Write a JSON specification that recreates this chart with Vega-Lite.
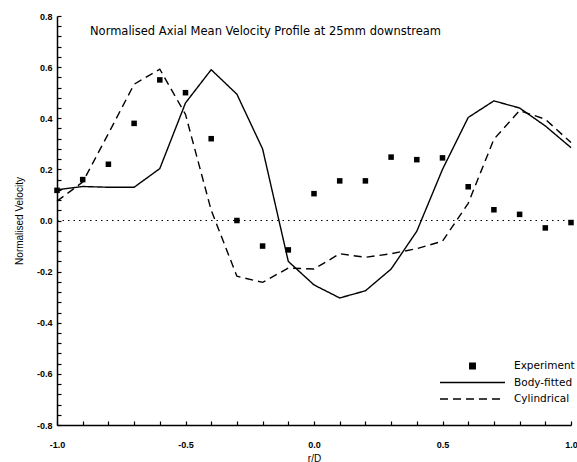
{
  "$schema": "https://vega.github.io/schema/vega-lite/v6.json",
  "width": 514,
  "height": 409,
  "autosize": {"type": "none"},
  "padding": {"left": 57, "top": 16, "right": 6, "bottom": 37},
  "background": "white",
  "title": {
    "text": "Normalised Axial Mean Velocity Profile at 25mm downstream",
    "anchor": "start",
    "frame": "group",
    "orient": "top",
    "offset": -25,
    "dx": 33,
    "font": "DejaVu Sans",
    "fontSize": 11.5,
    "fontWeight": "normal",
    "color": "black"
  },
  "config": {
    "view": {"stroke": null},
    "font": "Liberation Sans",
    "axis": {
      "grid": false,
      "ticks": true,
      "domainColor": "black",
      "domainWidth": 1.5,
      "tickColor": "black",
      "tickWidth": 1.2,
      "labelFont": "Liberation Sans",
      "labelFontWeight": "bold",
      "labelFontSize": 9,
      "labelColor": "black",
      "labelOverlap": false,
      "labelFlush": false,
      "titleFont": "Liberation Sans",
      "titleFontWeight": "normal",
      "titleFontSize": 10,
      "titleColor": "black"
    },
    "legend": {
      "symbolSize": 4225,
      "symbolFillColor": "black",
      "symbolStrokeColor": "black",
      "symbolStrokeWidth": 1.4,
      "symbolOpacity": 1,
      "clipHeight": 16,
      "rowPadding": 0.5,
      "labelFont": "DejaVu Sans",
      "labelFontSize": 10.5,
      "labelColor": "black",
      "labelOffset": 8,
      "padding": 0
    }
  },
  "datasets": {
    "experiment": [
      {"r": -1.0, "v": 0.118, "series": "Experiment"},
      {"r": -0.9, "v": 0.16, "series": "Experiment"},
      {"r": -0.8, "v": 0.22, "series": "Experiment"},
      {"r": -0.7, "v": 0.38, "series": "Experiment"},
      {"r": -0.6, "v": 0.55, "series": "Experiment"},
      {"r": -0.5, "v": 0.5, "series": "Experiment"},
      {"r": -0.4, "v": 0.32, "series": "Experiment"},
      {"r": -0.3, "v": 0.0, "series": "Experiment"},
      {"r": -0.2, "v": -0.1, "series": "Experiment"},
      {"r": -0.1, "v": -0.115, "series": "Experiment"},
      {"r": 0.0, "v": 0.105, "series": "Experiment"},
      {"r": 0.1, "v": 0.155, "series": "Experiment"},
      {"r": 0.2, "v": 0.155, "series": "Experiment"},
      {"r": 0.3, "v": 0.248, "series": "Experiment"},
      {"r": 0.4, "v": 0.238, "series": "Experiment"},
      {"r": 0.5, "v": 0.245, "series": "Experiment"},
      {"r": 0.6, "v": 0.132, "series": "Experiment"},
      {"r": 0.7, "v": 0.042, "series": "Experiment"},
      {"r": 0.8, "v": 0.024, "series": "Experiment"},
      {"r": 0.9, "v": -0.029, "series": "Experiment"},
      {"r": 1.0, "v": -0.008, "series": "Experiment"}
    ],
    "models": [
      {"r": -1.0, "v": 0.12, "series": "Body-fitted"},
      {"r": -0.9, "v": 0.133, "series": "Body-fitted"},
      {"r": -0.8, "v": 0.13, "series": "Body-fitted"},
      {"r": -0.7, "v": 0.13, "series": "Body-fitted"},
      {"r": -0.6, "v": 0.203, "series": "Body-fitted"},
      {"r": -0.5, "v": 0.46, "series": "Body-fitted"},
      {"r": -0.4, "v": 0.59, "series": "Body-fitted"},
      {"r": -0.3, "v": 0.494, "series": "Body-fitted"},
      {"r": -0.2, "v": 0.28, "series": "Body-fitted"},
      {"r": -0.1, "v": -0.16, "series": "Body-fitted"},
      {"r": 0.0, "v": -0.252, "series": "Body-fitted"},
      {"r": 0.1, "v": -0.303, "series": "Body-fitted"},
      {"r": 0.2, "v": -0.275, "series": "Body-fitted"},
      {"r": 0.3, "v": -0.19, "series": "Body-fitted"},
      {"r": 0.4, "v": -0.042, "series": "Body-fitted"},
      {"r": 0.5, "v": 0.2, "series": "Body-fitted"},
      {"r": 0.6, "v": 0.403, "series": "Body-fitted"},
      {"r": 0.7, "v": 0.468, "series": "Body-fitted"},
      {"r": 0.8, "v": 0.44, "series": "Body-fitted"},
      {"r": 0.9, "v": 0.37, "series": "Body-fitted"},
      {"r": 1.0, "v": 0.285, "series": "Body-fitted"},
      {"r": -1.0, "v": 0.076, "series": "Cylindrical"},
      {"r": -0.9, "v": 0.15, "series": "Cylindrical"},
      {"r": -0.8, "v": 0.34, "series": "Cylindrical"},
      {"r": -0.7, "v": 0.533, "series": "Cylindrical"},
      {"r": -0.6, "v": 0.592, "series": "Cylindrical"},
      {"r": -0.5, "v": 0.415, "series": "Cylindrical"},
      {"r": -0.4, "v": 0.04, "series": "Cylindrical"},
      {"r": -0.3, "v": -0.218, "series": "Cylindrical"},
      {"r": -0.2, "v": -0.242, "series": "Cylindrical"},
      {"r": -0.1, "v": -0.186, "series": "Cylindrical"},
      {"r": 0.0, "v": -0.19, "series": "Cylindrical"},
      {"r": 0.1, "v": -0.13, "series": "Cylindrical"},
      {"r": 0.2, "v": -0.144, "series": "Cylindrical"},
      {"r": 0.3, "v": -0.13, "series": "Cylindrical"},
      {"r": 0.4, "v": -0.11, "series": "Cylindrical"},
      {"r": 0.5, "v": -0.081, "series": "Cylindrical"},
      {"r": 0.6, "v": 0.067, "series": "Cylindrical"},
      {"r": 0.7, "v": 0.318, "series": "Cylindrical"},
      {"r": 0.8, "v": 0.43, "series": "Cylindrical"},
      {"r": 0.9, "v": 0.396, "series": "Cylindrical"},
      {"r": 1.0, "v": 0.305, "series": "Cylindrical"}
    ]
  },
  "encoding": {
    "x": {
      "field": "r",
      "type": "quantitative",
      "scale": {"domain": [-1, 1], "nice": false, "zero": false},
      "title": "r/D",
      "axis": {
        "values": [-1, -0.9, -0.8, -0.7, -0.6, -0.5, -0.4, -0.3, -0.2, -0.1, 0, 0.1, 0.2, 0.3, 0.4, 0.5, 0.6, 0.7, 0.8, 0.9, 1],
        "labelExpr": "abs(datum.value*2 - round(datum.value*2)) < 0.001 ? (datum.value < -0.001 ? '-' : '') + format(abs(datum.value), '.1f') : ''",
        "labelOverlap": false,
        "ticks": true,
        "tickSize": -4,
        "labelPadding": 19,
        "titlePadding": 4,
        "encode": {"ticks": {"update": {"y2": {"signal": "abs(datum.value*2 - round(datum.value*2)) < 0.001 ? -8 : -4"}}}}
      }
    },
    "y": {
      "field": "v",
      "type": "quantitative",
      "scale": {"domain": [-0.8, 0.8], "nice": false},
      "title": "Normalised Velocity",
      "axis": {
        "values": [-0.8, -0.76, -0.72, -0.68, -0.64, -0.6, -0.56, -0.52, -0.48, -0.44, -0.4, -0.36, -0.32, -0.28, -0.24, -0.2, -0.16, -0.12, -0.08, -0.04, 0, 0.04, 0.08, 0.12, 0.16, 0.2, 0.24, 0.28, 0.32, 0.36, 0.4, 0.44, 0.48, 0.52, 0.56, 0.6, 0.64, 0.68, 0.72, 0.76, 0.8],
        "labelExpr": "abs(datum.value*5 - round(datum.value*5)) < 0.001 ? (datum.value < -0.001 ? '-' : '') + format(abs(datum.value), '.1f') : ''",
        "labelOverlap": false,
        "ticks": true,
        "tickSize": -4,
        "labelPadding": 9,
        "titlePadding": 12,
        "encode": {"ticks": {"update": {"x2": {"signal": "abs(datum.value*5 - round(datum.value*5)) < 0.001 ? 8 : 4"}}}}
      }
    }
  },
  "layer": [
    {
      "data": {"values": [{"r": -1, "v": 0}, {"r": 1, "v": 0}]},
      "mark": {"type": "line", "color": "black", "strokeWidth": 1.2, "strokeDash": [1.5, 4]}
    },
    {
      "data": {"name": "models"},
      "mark": {"type": "line", "color": "black", "strokeWidth": 1.4},
      "encoding": {
        "strokeDash": {
          "field": "series",
          "type": "nominal",
          "scale": {"domain": ["Experiment", "Body-fitted", "Cylindrical"], "range": [[1, 0], [1, 0], [8, 5]]},
          "legend": {
            "title": null,
            "orient": "none",
            "legendX": 382,
            "legendY": 342,
            "encode": {"symbols": {"update": {"fill": {"value": "black"}, "stroke": {"value": "black"}, "strokeWidth": {"value": 1.4}, "opacity": {"value": 1}}}}
          }
        }
      }
    },
    {
      "data": {"name": "experiment"},
      "mark": {"type": "point", "filled": true, "color": "black", "opacity": 1, "size": 4225},
      "encoding": {
        "shape": {
          "field": "series",
          "type": "nominal",
          "scale": {"domain": ["Experiment", "Body-fitted", "Cylindrical"], "range": ["M-0.085,-0.085H0.085V0.085H-0.085Z", "M-1,0H1", "M-1,0H1"]},
          "legend": {
            "title": null,
            "orient": "none",
            "legendX": 382,
            "legendY": 342,
            "encode": {"symbols": {"update": {"fill": {"value": "black"}, "stroke": {"value": "black"}, "strokeWidth": {"value": 1.4}, "opacity": {"value": 1}}}}
          }
        },
        "strokeDash": {"field": "series", "type": "nominal"}
      }
    }
  ]
}
